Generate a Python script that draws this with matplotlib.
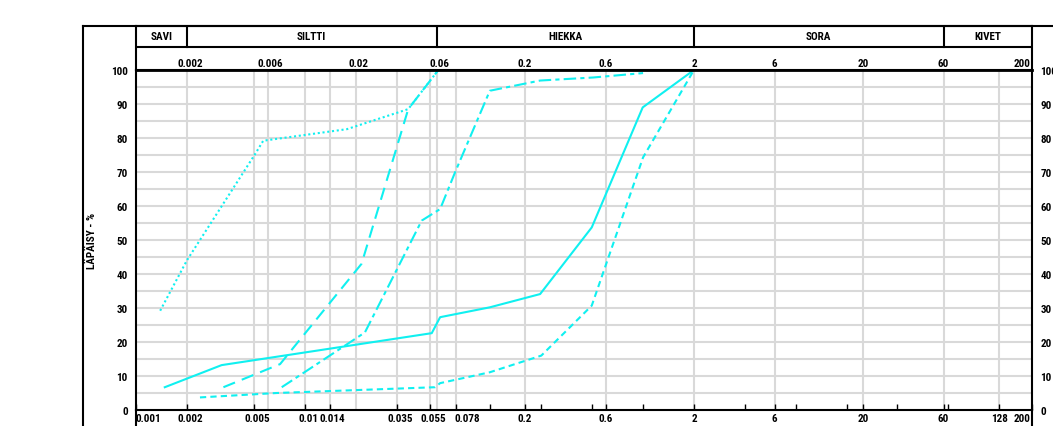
import matplotlib
matplotlib.use("Agg")
import matplotlib.pyplot as plt
from matplotlib import font_manager
from matplotlib.lines import Line2D
from matplotlib.ticker import NullLocator
from matplotlib.transforms import ScaledTranslation

# grain size curves (mm, passing %)
a_x = [0.00139, 0.002, 0.00507, 0.00566, 0.0177, 0.0408, 0.0615]
a_y = [29.2, 44.0, 75.3, 79.2, 82.6, 88.5, 100]
b_x = [0.00329, 0.00712, 0.0216, 0.0408, 0.0615]
b_y = [6.7, 13.5, 43.0, 88.5, 100]
c_x = [0.00728, 0.0226, 0.049, 0.063, 0.0772, 0.124, 0.246, 0.508, 1.0]
c_y = [6.7, 22.8, 55.7, 59.1, 69.9, 93.9, 96.9, 97.8, 99.1]
d_x = [0.00148, 0.00321, 0.0562, 0.063, 0.124, 0.246, 0.497, 0.995, 2.0]
d_y = [6.7, 13.2, 22.6, 27.3, 30.2, 34.1, 53.7, 89.0, 100]
e_x = [0.00239, 0.0068, 0.0588, 0.063, 0.124, 0.25, 0.497, 1.0, 2.0]
e_y = [3.7, 5.0, 6.7, 7.9, 11.1, 16.0, 30.7, 74.3, 100]

grid_x = [0.002, 0.005, 0.006, 0.01, 0.014, 0.02, 0.035, 0.055, 0.06, 0.078,
          0.2, 0.6, 2, 6, 20, 60, 128]
bottom_ticks = [0.001, 0.002, 0.005, 0.01, 0.014, 0.035, 0.055, 0.078, 0.2, 0.6,
                2, 6, 20, 60, 128, 200]
bottom_labels = ["0.001", "0.002", "0.005", "0.01", "0.014", "0.035", "0.055", "0.078",
                 "0.2", "0.6", "2", "6", "20", "60", "128", "200"]
top_ticks = [0.002, 0.006, 0.02, 0.06, 0.2, 0.6, 2, 6, 20, 60, 200]
top_labels = ["0.002", "0.006", "0.02", "0.06", "0.2", "0.6", "2", "6", "20", "60", "200"]
sieve_ticks = [0.125, 0.25, 0.5, 1, 4, 8, 16, 32, 64]
classes = ["SAVI", "SILTTI", "HIEKKA", "SORA", "KIVET"]
class_edges = [0.001, 0.002, 0.06, 2, 60, 200]

names = {f.name for f in font_manager.fontManager.ttflist}
fam = "DejaVu Sans"
for cand in ["Liberation Sans Narrow", "Roboto Condensed", "Roboto"]:
    if cand in names:
        fam = cand
        break
plt.rcParams["font.family"] = fam
fs = 8

W, H = 1053, 427
fig = plt.figure(figsize=(W / 100, H / 100), dpi=100)
L, R, T, B = 136, 1032, 71, 411
ax = fig.add_axes([L / W, (H - B) / H, (R - L) / W, (B - T) / H])
ax.set_xscale("log")
ax.set_xlim(0.001, 200)
ax.set_ylim(0, 100)

for g in grid_x:
    ax.axvline(g, color="#d9d9d9", lw=1.5, zorder=0)
for yv in range(5, 100, 5):
    ax.axhline(yv, color="#d9d9d9", lw=1.5, zorder=0)

cyan = "#10f0f0"
ax.plot(a_x, a_y, color=cyan, lw=1.5, linestyle=(0, (1, 1.3)))
ax.plot(b_x, b_y, color=cyan, lw=1.5, linestyle=(0, (6, 3.5)))
ax.plot(c_x, c_y, color=cyan, lw=1.5, linestyle=(0, (6, 2, 2, 2)))
ax.plot(d_x, d_y, color=cyan, lw=1.5)
ax.plot(e_x, e_y, color=cyan, lw=1.5, linestyle=(0, (3, 2)))

def shift(px):
    return ScaledTranslation(px / 100, 0, fig.dpi_scale_trans)

ax.set_xticks(bottom_ticks)
ax.set_xticklabels(bottom_labels, fontsize=fs, fontweight="bold")
ax.set_xticks(sieve_ticks, minor=True)
ax.set_xticklabels([], minor=True)
ax.tick_params(axis="x", which="both", direction="in", length=4, width=1, pad=2)
labs = ax.get_xticklabels()
for v, lab in zip(bottom_ticks[1:-1], labs[1:-1]):
    if lab.get_text() == "0.078":
        dx = 12
    elif v < 0.1:
        dx = 3
    else:
        dx = 0
    lab.set_transform(lab.get_transform() + shift(dx))
labs[0].set_ha("left")
labs[-1].set_ha("right")
labs[-1].set_transform(labs[-1].get_transform() + shift(-2))

ax.set_yticks(range(0, 101, 10))
ax.tick_params(axis="y", which="both", length=0, labelsize=fs, pad=6,
               labelright=True)
for t in ax.yaxis.get_ticklabels():
    t.set_fontweight("bold")
ax.set_ylabel("LÄPÄISY - %", fontsize=fs, fontweight="bold")
ax.yaxis.set_label_coords(-0.0435, 0.5)

for s in ax.spines.values():
    s.set_linewidth(1.5)
ax.spines["top"].set_linewidth(2)

# header with soil classes
hx = fig.add_axes([L / W, (H - T) / H, (R - L) / W, (T - 27) / H])
hx.set_xscale("log")
hx.set_xlim(0.001, 200)
hx.set_ylim(0, 1)
hx.xaxis.set_major_locator(NullLocator())
hx.xaxis.set_minor_locator(NullLocator())
hx.set_yticks([])
for s in hx.spines.values():
    s.set_linewidth(1.5)
mid = 1 - 21 / 44
hx.axhline(mid, color="black", lw=1.5)
for e in class_edges[1:-1]:
    hx.plot([e, e], [mid, 1], color="black", lw=1.5)
for i, name in enumerate(classes):
    cx = (class_edges[i] * class_edges[i + 1]) ** 0.5
    hx.text(cx, (mid + 1) / 2, name, ha="center", va="center",
            fontsize=fs, fontweight="bold")
for v, lab in zip(top_ticks, top_labels):
    last = lab == "200"
    dx = -2 if last else (3 if v < 0.1 else 0)
    hx.text(v, 0.15, lab, ha="right" if last else "center", va="center",
            fontsize=fs, fontweight="bold", transform=hx.transData + shift(dx))

# outer frame and spine extensions
for x0, y0, x1, y1 in [(83, 27, 83, H), (83, 27, W, 27),
                       (L, B, L, H), (R, B, R, H)]:
    fig.add_artist(Line2D([x0 / W, x1 / W], [(H - y0) / H, (H - y1) / H],
                          transform=fig.transFigure, color="black", lw=1.5))

fig.savefig("out.png", dpi=100)
